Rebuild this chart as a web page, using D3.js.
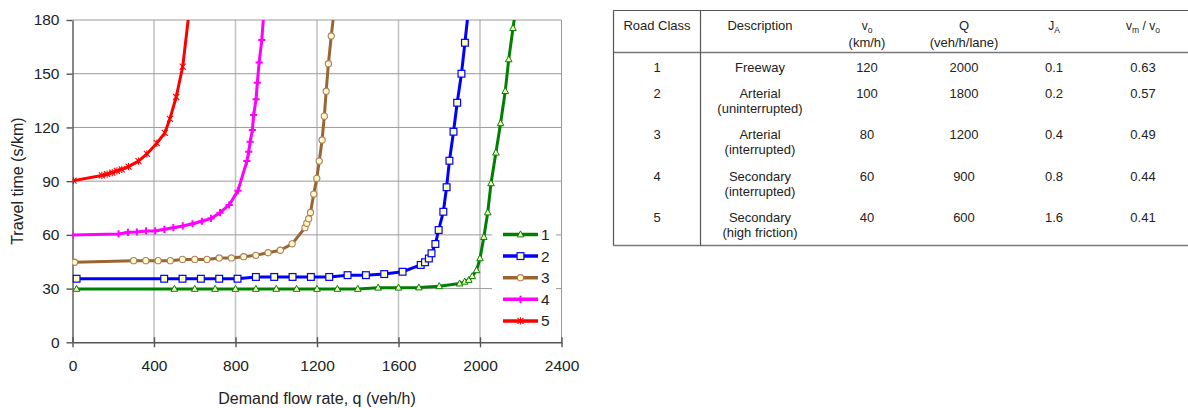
<!DOCTYPE html>
<html>
<head>
<meta charset="utf-8">
<script src="https://cdn.jsdelivr.net/npm/d3@7"></script>
<style>
  html, body { margin: 0; padding: 0; background: #fff; }
  svg { display: block; font-family: "Liberation Sans", Arial, sans-serif; }
</style>
</head>
<body>
<svg id="chart" width="1188" height="408"></svg>
<script>
// Road classes and travel-time curves (travel time in s/km vs demand flow in veh/h)
const classes = ["1", "2", "3", "4", "5"];

const q1 = [20, 500, 600, 700, 800, 900, 1000, 1100, 1200, 1300, 1400, 1500, 1600, 1700, 1800, 1900, 1925, 1945, 1962, 1983, 2000, 2019, 2038, 2054, 2078, 2101, 2124, 2141, 2162, 2186];
const t1 = [29.8, 29.8, 29.8, 29.8, 29.8, 29.8, 29.8, 29.8, 29.8, 29.8, 29.8, 30.5, 30.5, 30.6, 31.3, 32.8, 33.8, 34.8, 36.9, 40.2, 46.9, 58.8, 72.5, 88.8, 105.9, 122.3, 140.3, 158, 175.5, 195];

const q2 = [20, 450, 540, 630, 720, 810, 900, 990, 1080, 1170, 1260, 1350, 1440, 1530, 1620, 1709, 1730, 1749, 1762, 1781, 1797, 1820, 1836, 1850, 1870, 1888, 1909, 1926, 1952];
const t2 = [35.5, 35.5, 35.5, 35.5, 35.5, 35.5, 36.5, 36.5, 36.5, 36.5, 36.5, 37.5, 37.5, 38.1, 39.4, 43.2, 44.7, 46.8, 49.7, 54.9, 62.7, 72.9, 86.6, 101.4, 117.6, 133.8, 150, 167.3, 195];

const q3 = [10, 300, 360, 420, 480, 540, 600, 660, 720, 780, 840, 900, 960, 1020, 1078, 1141, 1150, 1159, 1168, 1184, 1199, 1211, 1225, 1236, 1245, 1256, 1270, 1294];
const t3 = [44.7, 45.6, 45.6, 45.6, 45.6, 46.3, 46.3, 46.3, 47.1, 47.1, 47.8, 48.6, 50, 51.4, 55, 64, 66.5, 69, 72.5, 82.8, 91.6, 101.2, 113, 126.3, 140.2, 155.6, 171.1, 195];

const q4 = [0, 226, 272, 316, 361, 406, 451, 495, 541, 589, 635, 680, 724, 769, 812, 856, 865, 872, 883, 889, 901, 907, 916, 929, 946];
const t4 = [59.9, 60.5, 61.4, 61.6, 62.2, 62.2, 63.1, 64, 65, 66.2, 67.6, 69.2, 72.4, 76.7, 84.7, 101.2, 106.4, 112, 118.6, 127, 135.7, 145, 156.3, 168.8, 195];

const q5 = [5, 144, 170, 195, 218, 242, 275, 324, 365, 414, 453, 478, 509, 541, 583];
const t5 = [90.3, 93.2, 93.9, 94.8, 95.7, 96.6, 98.1, 101.2, 105.2, 111.2, 116.9, 124.8, 137, 154, 195];

const xTicks = [0, 400, 800, 1200, 1600, 2000, 2400];
const yTicks = [0, 30, 60, 90, 120, 150, 180];

// Parameter table; "_x" marks a subscript
const tableHeaders = [["Road Class"], ["Description"], ["v_o", "(km/h)"], ["Q", "(veh/h/lane)"], ["J_A"], ["v_m / v_o"]];
const roadClass = ["1", "2", "3", "4", "5"];
const descLine1 = ["Freeway", "Arterial", "Arterial", "Secondary", "Secondary"];
const descLine2 = ["", "(uninterrupted)", "(interrupted)", "(interrupted)", "(high friction)"];
const vo = ["120", "100", "80", "60", "40"];
const capQ = ["2000", "1800", "1200", "900", "600"];
const jA = ["0.1", "0.2", "0.4", "0.8", "1.6"];
const vmRatio = ["0.63", "0.57", "0.49", "0.44", "0.41"];

const seriesQ = [q1, q2, q3, q4, q5];
const seriesT = [t1, t2, t3, t4, t5];
const colors = ["#008000", "#0000ff", "#996633", "#ff00ff", "#ff0000"];
const markerKinds = ["triangle", "square", "circle", "plus", "star"];

const svg = d3.select("#chart");

const x = d3.scaleLinear().domain([0, 2400]).range([72.5, 561.5]);
const y = d3.scaleLinear().domain([0, 180]).range([342.3, 20]);

// Plot clip
svg.append("defs").append("clipPath").attr("id", "plotClip")
  .append("rect")
  .attr("x", x(0)).attr("y", y(180))
  .attr("width", x(2400) - x(0)).attr("height", y(0) - y(180));

// Grid
const grid = svg.append("g");
grid.selectAll(".vg").data(xTicks.filter(d => d > 0 && d < 2400)).join("line")
  .attr("x1", d => x(d)).attr("x2", d => x(d))
  .attr("y1", y(180)).attr("y2", y(0))
  .attr("stroke", "#c4c4c4").attr("stroke-width", 1.6);
grid.selectAll(".hg").data(yTicks.filter(d => d > 0 && d < 180)).join("line")
  .attr("x1", x(0)).attr("x2", x(2400))
  .attr("y1", d => y(d)).attr("y2", d => y(d))
  .attr("stroke", "#9a9a9a").attr("stroke-width", 1);
// Top and right frame
grid.append("path")
  .attr("d", `M${x(0)},${y(180)}H${x(2400)}V${y(0)}`)
  .attr("fill", "none").attr("stroke", "#9a9a9a").attr("stroke-width", 1);

// Axes
const yAxis = svg.append("g").attr("transform", `translate(${x(0)},0)`)
  .call(d3.axisLeft(y).tickValues(yTicks).tickFormat(d3.format("d"))
    .tickSize(6).tickPadding(7).tickSizeOuter(0));
const xAxis = svg.append("g").attr("transform", `translate(0,${y(0)})`)
  .call(d3.axisBottom(x).tickValues(xTicks).tickFormat(d3.format("d"))
    .tickSize(5).tickPadding(12.4).tickSizeOuter(0));
xAxis.selectAll(".tick line").attr("y1", -5);
[xAxis, yAxis].forEach(g => {
  g.select(".domain").attr("stroke", "#555").attr("stroke-width", 1.4);
  g.selectAll(".tick line").attr("stroke", "#555").attr("stroke-width", 1.4);
  g.selectAll(".tick text").attr("font-size", "15.5px").attr("fill", "#222")
    .attr("font-family", "'Liberation Sans', Arial, sans-serif");
});

// Axis titles
svg.append("text")
  .attr("x", 317).attr("y", 404).attr("text-anchor", "middle")
  .attr("font-size", "16px").attr("fill", "#222")
  .text("Demand flow rate, q (veh/h)");
svg.append("text")
  .attr("transform", `translate(23,${(y(0) + y(180)) / 2}) rotate(-90)`)
  .attr("text-anchor", "middle")
  .attr("font-size", "16px").attr("fill", "#222")
  .text("Travel time (s/km)");

// Marker drawing
function drawMarker(g, kind, color) {
  const fillY = "#ffffc4";
  if (kind === "triangle") {
    g.append("path").attr("d", "M0,-3.6L3.3,2.4L-3.3,2.4Z")
      .attr("fill", fillY).attr("stroke", color).attr("stroke-width", 1);
  } else if (kind === "square") {
    g.append("rect").attr("x", -3.4).attr("y", -3.4).attr("width", 6.8).attr("height", 6.8)
      .attr("fill", fillY).attr("stroke", color).attr("stroke-width", 1.2);
  } else if (kind === "circle") {
    g.append("circle").attr("r", 3.1)
      .attr("fill", fillY).attr("stroke", "#b07a6a").attr("stroke-width", 1.1);
  } else if (kind === "plus") {
    g.append("path").attr("d", "M-3.6,0H3.6M0,-3.6V3.6")
      .attr("stroke", color).attr("stroke-width", 2);
  } else {
    g.append("path").attr("d", "M-3,-3L3,3M-3,3L3,-3M0,-3.6V3.6")
      .attr("stroke", color).attr("stroke-width", 1.1);
  }
}

// Series
const line = d3.line().x(d => x(d[0])).y(d => y(d[1]));
const plot = svg.append("g").attr("clip-path", "url(#plotClip)");
// draw in reverse so series 1 sits on top
for (let i = classes.length - 1; i >= 0; i--) {
  const pts = seriesQ[i].map((q, k) => [q, seriesT[i][k]]);
  const sg = plot.append("g");
  sg.append("path").datum(pts).attr("d", line)
    .attr("fill", "none").attr("stroke", colors[i]).attr("stroke-width", 3)
    .attr("stroke-linejoin", "round");
  sg.selectAll(".m").data(pts).join("g")
    .attr("transform", d => `translate(${x(d[0])},${y(d[1])})`)
    .each(function () { drawMarker(d3.select(this), markerKinds[i], colors[i]); });
}

// Legend
const legend = svg.append("g");
legend.append("rect").attr("x", 492).attr("y", 222).attr("width", 64).attr("height", 110).attr("fill", "#fff");
classes.forEach((c, i) => {
  const ly = 234.5 + i * 21.6;
  legend.append("line").attr("x1", 503).attr("x2", 538).attr("y1", ly).attr("y2", ly)
    .attr("stroke", colors[i]).attr("stroke-width", 3.5);
  drawMarker(legend.append("g").attr("transform", `translate(520.5,${ly})`), markerKinds[i], colors[i]);
  legend.append("text").attr("x", 541).attr("y", ly).attr("dy", "0.36em")
    .attr("font-size", "15.5px").attr("fill", "#222").text(c);
});

// Table
const tbl = svg.append("g").attr("font-size", "13px").attr("fill", "#222");
const colX = [657, 760, 867, 964, 1054, 1143];
const tTop = 10.5, tHead = 52.5, tBottom = 245.5, tLeft = 613.5, tRight = 1188;
tbl.append("line").attr("x1", tLeft).attr("x2", tRight).attr("y1", tTop).attr("y2", tTop)
  .attr("stroke", "#555").attr("stroke-width", 1.2);
tbl.append("line").attr("x1", tLeft).attr("x2", tRight).attr("y1", tHead).attr("y2", tHead)
  .attr("stroke", "#777").attr("stroke-width", 1.4);
tbl.append("line").attr("x1", tLeft).attr("x2", tRight).attr("y1", tBottom).attr("y2", tBottom)
  .attr("stroke", "#777").attr("stroke-width", 1.6);
tbl.append("line").attr("x1", tLeft).attr("x2", tLeft).attr("y1", tTop).attr("y2", tBottom)
  .attr("stroke", "#555").attr("stroke-width", 1.2);
tbl.append("line").attr("x1", 700.5).attr("x2", 700.5).attr("y1", tTop).attr("y2", tBottom)
  .attr("stroke", "#555").attr("stroke-width", 1.2);

// header text with subscripts written as "base_sub"
function headerText(g, cx, cy, str) {
  const t = g.append("text").attr("x", cx).attr("y", cy).attr("dy", "0.35em").attr("text-anchor", "middle");
  if (str.indexOf("_") < 0) { t.text(str); return; }
  // split into runs: normal text and subscripts
  const runs = [];
  let buf = "";
  for (let k = 0; k < str.length; k++) {
    if (str[k] === "_") {
      if (buf) runs.push({ s: buf, sub: false });
      runs.push({ s: str[k + 1], sub: true });
      buf = ""; k++;
    } else buf += str[k];
  }
  if (buf) runs.push({ s: buf, sub: false });
  let shifted = false;
  runs.forEach(r => {
    const sp = t.append("tspan").text(r.s);
    if (r.sub) {
      sp.attr("font-size", "8.5px");
      if (!shifted) { sp.attr("dy", 2.5); shifted = true; }
    } else {
      sp.attr("font-size", "12px");
      if (shifted) { sp.attr("dy", -2.5); shifted = false; }
    }
  });
}
tableHeaders.forEach((lines, ci) => {
  lines.forEach((s, li) => headerText(tbl, colX[ci], 25.7 + li * 16.6, s));
});

const rowY = [67.7, 93.3, 134.3, 176, 217.3];
const cols = [roadClass, descLine1, vo, capQ, jA, vmRatio];
rowY.forEach((ry, ri) => {
  cols.forEach((col, ci) => {
    tbl.append("text").attr("x", colX[ci]).attr("y", ry).attr("dy", "0.35em")
      .attr("text-anchor", "middle").text(col[ri]);
  });
  if (descLine2[ri]) {
    tbl.append("text").attr("x", colX[1]).attr("y", ry + 15.5).attr("dy", "0.35em")
      .attr("text-anchor", "middle").text(descLine2[ri]);
  }
});
</script>
</body>
</html>
